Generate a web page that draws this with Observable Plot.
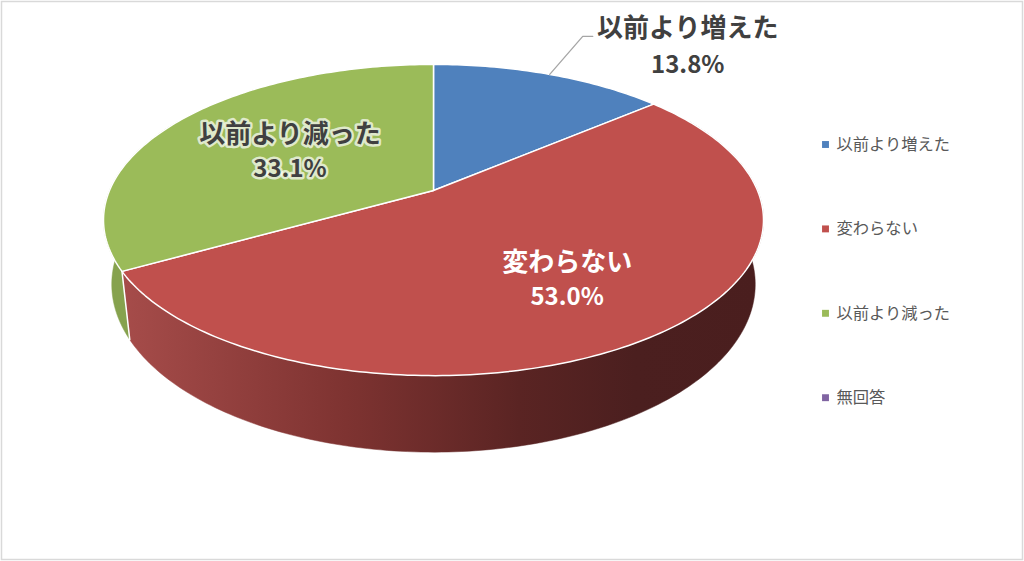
<!DOCTYPE html>
<html><head><meta charset="utf-8">
<script src="https://cdn.jsdelivr.net/npm/d3@7"></script>
<script src="https://cdn.jsdelivr.net/npm/@observablehq/plot@0.6"></script>
<style>body{margin:0;background:#fff} #chart{width:1024px;height:561px}</style>
</head><body><div id="chart"></div>
<script>
// ---- data ----
const categories = ["以前より増えた", "変わらない", "以前より減った", "無回答"];
const percents   = [13.8, 53.0, 33.1, 0.0];
const topColors  = ["#4f81bd", "#c0504d", "#9bbb59", "#8064a2"];
const wallColors = ["#3c6390", "url(#wallRed)", "#86a24e", "#62497f"];
const labelInk   = ["#404040", "#ffffff", "#404040", "#404040"];

// ---- layout ----
const W = 1024, H = 561;
const geo = {cx: 433, cy: 190, A: 324, B: 150, D: 5.27, T: 62, k: 0.975};
const font = "'Noto Sans CJK JP', 'Noto Sans', sans-serif";

function proj(deg, r = 1, drop = 0) {
  const t = deg * Math.PI / 180;
  const u = r * Math.sin(t), v = -r * Math.cos(t);
  const f = geo.D / (geo.D - v);
  let x = geo.cx + geo.A * u * f;
  const y = geo.cy + geo.B * v * f + drop * geo.T * f;
  if (drop) x = geo.cx + (x - geo.cx) * geo.k;
  return {x, y};
}
function arcPts(a0, a1, drop = 0) {
  const n = Math.max(2, Math.ceil(Math.abs(a1 - a0)));
  return d3.range(n + 1).map(i => proj(a0 + (a1 - a0) * i / n, 1, drop));
}

const rows = categories.map((c, i) => ({c, p: percents[i], i}));
const arcs = d3.pie().sort(null).value(d => d.p)(rows).map(a => ({
  ...a.data,
  a0: a.startAngle * 180 / Math.PI,
  a1: a.endAngle * 180 / Math.PI
})).filter(a => a.p > 0);

const marks = [];
// walls (front side)
const FRONT0 = 60, FRONT1 = 300;
for (const a of arcs) {
  const s = Math.max(a.a0, FRONT0), e = Math.min(a.a1, FRONT1);
  if (e <= s) continue;
  const pts = [...arcPts(s, e, 0), ...arcPts(e, s, 1)];
  pts.push(pts[0]);
  marks.push(Plot.line(pts, {x: "x", y: "y", fill: wallColors[a.i], stroke: wallColors[a.i], strokeWidth: 0.5}));
}
// wall boundary lines
for (const a of arcs) {
  if (a.a0 > 90 && a.a0 < 270) {
    marks.push(Plot.line([proj(a.a0, 1, 0), proj(a.a0, 1, 1)], {x: "x", y: "y", stroke: "#ffffff", strokeWidth: 1.5}));
  }
}
// top faces
for (const a of arcs) {
  const c = proj(0, 0, 0);
  const pts = [c, ...arcPts(a.a0, a.a1, 0), c];
  marks.push(Plot.line(pts, {x: "x", y: "y", fill: topColors[a.i], stroke: "#ffffff", strokeWidth: 1.5, strokeLinejoin: "round"}));
}

// data labels
const pctFmt = d => d3.format(".1f")(d) + "%";
const labelR = [null, 0.65, 0.54, null];
const lab1 = [], lab2 = [];
for (const a of arcs) {
  const mid = (a.a0 + a.a1) / 2;
  if (labelR[a.i] != null) {
    const p = proj(mid, labelR[a.i], 0);
    lab1.push({x: p.x, y: p.y - 17, t: a.c, ink: labelInk[a.i], halo: a.i === 2});
    lab2.push({x: p.x, y: p.y + 18, t: pctFmt(a.p), ink: labelInk[a.i], halo: a.i === 2});
  } else if (a.i === 0) {
    const e = proj(mid, 1, 0);
    const elbow = {x: e.x + 33, y: e.y - 38};
    const end = {x: elbow.x + 10, y: elbow.y};
    marks.push(Plot.line([e, elbow, end], {x: "x", y: "y", stroke: "#a6a6a6", strokeWidth: 1.3}));
    lab1.push({x: end.x + 95, y: end.y - 8, t: a.c, ink: labelInk[a.i], halo: false});
    lab2.push({x: end.x + 95, y: end.y + 29, t: pctFmt(a.p), ink: labelInk[a.i], halo: false});
  }
}
const haloOpts = {stroke: "#ffffff", strokeWidth: 5, strokeOpacity: 0.7, strokeLinejoin: "round"};
marks.push(Plot.text(lab1.filter(d => d.halo), {x: "x", y: "y", text: "t", fill: "ink", fontSize: 26, fontWeight: "bold", fontFamily: font, ...haloOpts}));
marks.push(Plot.text(lab2.filter(d => d.halo), {x: "x", y: "y", text: "t", fill: "ink", fontSize: 24, fontWeight: "bold", fontFamily: font, ...haloOpts}));
marks.push(Plot.text(lab1.filter(d => !d.halo), {x: "x", y: "y", text: "t", fill: "ink", fontSize: 26, fontWeight: "bold", fontFamily: font}));
marks.push(Plot.text(lab2.filter(d => !d.halo), {x: "x", y: "y", text: "t", fill: "ink", fontSize: 24, fontWeight: "bold", fontFamily: font}));

// legend
const legend = categories.map((c, i) => ({c, i, x: 825, y: 144 + i * 84.4, col: topColors[i]}));
marks.push(Plot.dot(legend, {x: "x", y: "y", symbol: "square", r: 3.9, fill: "col", stroke: null}));
marks.push(Plot.text(legend, {x: d => d.x + 11, y: "y", text: "c", textAnchor: "start", fill: "#595959", fontSize: 16.3, fontFamily: font}));

// border
marks.unshift(Plot.frame({stroke: "#d9d9d9", strokeWidth: 1.5, insetLeft: 1, insetTop: 1, insetRight: 2, insetBottom: 2}));

const chart = Plot.plot({
  width: W, height: H,
  margin: 0,
  x: {domain: [0, W], axis: null},
  y: {domain: [0, H], reverse: true, axis: null},
  color: {type: "identity"},
  style: {background: "#ffffff", overflow: "visible"},
  marks
});
const defs = document.createElementNS("http://www.w3.org/2000/svg", "defs");
defs.innerHTML = `<linearGradient id="wallRed" x1="0" x2="1" y1="0" y2="0">
  <stop offset="0" stop-color="#a64c4a"/>
  <stop offset="0.35" stop-color="#7e3331"/>
  <stop offset="0.62" stop-color="#5a2423"/>
  <stop offset="0.8" stop-color="#4b1f1f"/>
  <stop offset="1" stop-color="#4a1e1e"/>
</linearGradient>`;
chart.insertBefore(defs, chart.firstChild);
document.getElementById("chart").appendChild(chart);
</script>
</body></html>
